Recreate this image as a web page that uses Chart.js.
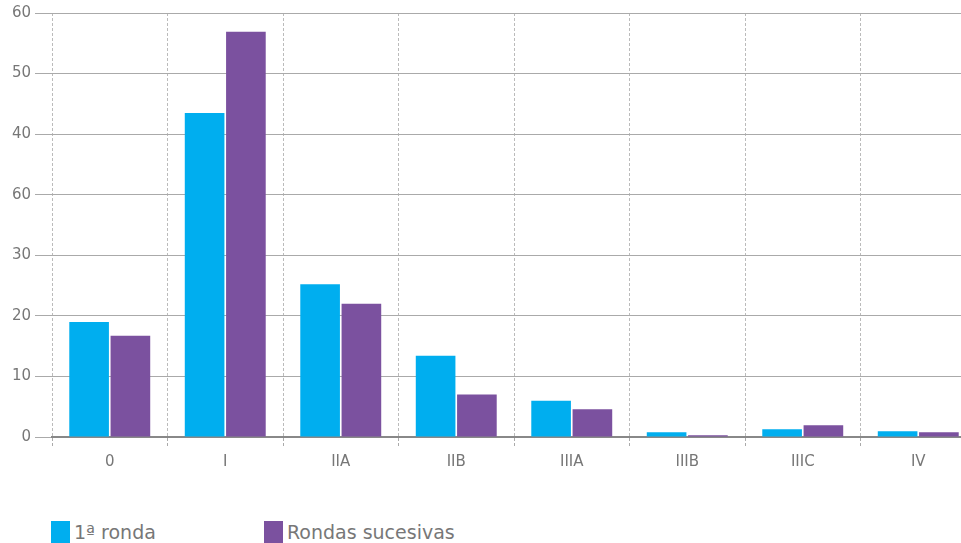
<!DOCTYPE html>
<html>
<head>
<meta charset="utf-8">
<script src="https://cdn.jsdelivr.net/npm/chart.js@4"></script>
<style>
  body { margin: 0; width: 961px; height: 543px; overflow: hidden; background: #fff; font-family: "DejaVu Sans", Verdana, sans-serif; }
  .wrap { position: absolute; left: 0; top: 0; width: 976px; height: 490px; }
  .legend { position: absolute; left: 51px; top: 521px; font-size: 19px; color: #777; white-space: nowrap; }
  .legend span { display: inline-block; vertical-align: top; }
  .legend .item { display: inline-block; width: 213px; }
  .legend .box { width: 19px; height: 22px; margin-right: 4px; }
</style>
</head>
<body>
<div class="wrap"><canvas id="chart-bar"></canvas></div>
<div class="legend" id="legend"></div>
<script>
// categorías y series
const stageLabels = ["0", "I", "IIA", "IIB", "IIIA", "IIIB", "IIIC", "IV"];
const firstRound = [19.0, 53.5, 25.2, 13.4, 6.0, 0.8, 1.3, 0.95];
const laterRounds = [16.7, 66.9, 22.0, 7.0, 4.6, 0.3, 1.95, 0.8];
// etiquetas del eje Y tal como aparecen
const yTickLabels = ["0", "10", "20", "30", "60", "40", "50", "60"];

const seriesNames = ["1ª ronda", "Rondas sucesivas"];
const seriesColors = ["#00aeef", "#7b519f"];

const textColor = "#777";
const fontFamily = "'DejaVu Sans', Verdana, sans-serif";

const config_bar = {
    type: 'bar',
    data: {
        labels: stageLabels,
        datasets: [
            { label: seriesNames[0], data: firstRound, backgroundColor: seriesColors[0] },
            { label: seriesNames[1], data: laterRounds, backgroundColor: seriesColors[1] }
        ]
    },
    options: {
        responsive: false,
        animation: false,
        maintainAspectRatio: false,
        layout: { padding: 0 },
        datasets: {
            bar: { barPercentage: 0.96, categoryPercentage: 0.715, borderWidth: 0 }
        },
        scales: {
            x: {
                grid: {
                    offset: true,
                    color: '#bbb',
                    lineWidth: 1,
                    tickLength: 10,
                    tickBorderDash: [3, 2],
                    tickColor: '#aaa'
                },
                // en v4 "dash" punteó las líneas de la cuadrícula
                border: { color: '#888', width: 2, dash: [3, 2] },
                ticks: { color: textColor, font: { family: fontFamily, size: 15 }, padding: 6 },
                afterFit: s => { s.height = 53; }
            },
            y: {
                min: 0,
                max: 70,
                ticks: {
                    stepSize: 10,
                    color: textColor,
                    padding: 4,
                    font: { family: fontFamily, size: 15 },
                    callback: (value, idx) => yTickLabels[idx]
                },
                grid: { color: '#aaa', lineWidth: 1, tickLength: 17 },
                border: { display: false },
                afterFit: s => { s.width = 52; }
            }
        },
        plugins: {
            legend: { display: false },
            tooltip: { enabled: false }
        }
    }
};

const canvas = document.getElementById("chart-bar");
canvas.width = 976;
canvas.height = 490;
const barChart = new Chart(canvas, config_bar);

// leyenda
const legend = document.getElementById("legend");
seriesNames.forEach((name, idx) => {
    const item = document.createElement("span");
    item.className = "item";
    item.innerHTML = '<span class="box" style="background:' + seriesColors[idx] + '"></span><span>' + name + '</span>';
    legend.appendChild(item);
});
</script>
</body>
</html>
